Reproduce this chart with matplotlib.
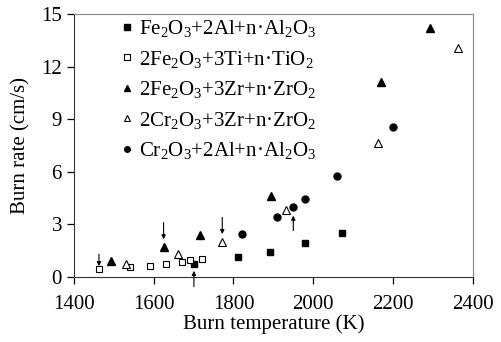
import matplotlib
matplotlib.use('Agg')
import matplotlib.pyplot as plt

plt.rcParams['font.family'] = ['Liberation Serif', 'DejaVu Serif']
plt.rcParams['mathtext.fontset'] = 'custom'
plt.rcParams['mathtext.rm'] = 'Liberation Serif'
plt.rcParams['mathtext.default'] = 'regular'

# Fe2O3 + 2Al + n Al2O3 (filled squares)
fe_al_t = [1701, 1812, 1891, 1980, 2071]
fe_al_u = [0.76, 1.14, 1.43, 1.94, 2.51]
# 2Fe2O3 + 3Ti + n TiO2 (open squares)
fe_ti_t = [1463, 1542, 1590, 1631, 1671, 1691, 1721]
fe_ti_u = [0.46, 0.57, 0.63, 0.76, 0.86, 0.95, 1.04]
# 2Fe2O3 + 3Zr + n ZrO2 (filled triangles)
fe_zr_t = [1494, 1625, 1716, 1894, 2171, 2292]
fe_zr_u = [0.91, 1.71, 2.40, 4.60, 11.1, 14.2]
# 2Cr2O3 + 3Zr + n ZrO2 (open triangles)
cr_zr_t = [1532, 1661, 1772, 1931, 2162, 2362]
cr_zr_u = [0.74, 1.31, 2.01, 3.82, 7.63, 13.05]
# Cr2O3 + 2Al + n Al2O3 (filled circles)
cr_al_t = [1821, 1909, 1950, 1980, 2059, 2200]
cr_al_u = [2.43, 3.44, 3.97, 4.47, 5.78, 8.57]

# arrows: (x, y_start, y_end)
arrows = [(1463, 1.30, 0.62), (1625, 3.10, 2.15), (1772, 3.40, 2.45),
          (1701, -0.55, 0.35), (1950, 2.65, 3.50)]

fig = plt.figure(figsize=(5.02, 3.42), dpi=100)
ax = fig.add_axes([0.147, 0.190, 0.795, 0.769])

ms = 5
ax.plot(fe_al_t, fe_al_u, 's', color='black', ms=ms,
        label='Fe$_2$O$_3$+2Al+n·Al$_2$O$_3$')
ax.plot(fe_ti_t, fe_ti_u, 's', mfc='white', mec='black', mew=0.8, ms=ms,
        label='2Fe$_2$O$_3$+3Ti+n·TiO$_2$')
ax.plot(fe_zr_t, fe_zr_u, '^', color='black', ms=ms + 0.5,
        label='2Fe$_2$O$_3$+3Zr+n·ZrO$_2$')
ax.plot(cr_zr_t, cr_zr_u, '^', mfc='white', mec='black', mew=0.8, ms=ms + 0.5,
        label='2Cr$_2$O$_3$+3Zr+n·ZrO$_2$')
ax.plot(cr_al_t, cr_al_u, 'o', color='black', ms=ms,
        label='Cr$_2$O$_3$+2Al+n·Al$_2$O$_3$')

for x, y0, y1 in arrows:
    ax.annotate('', xy=(x, y1), xytext=(x, y0), annotation_clip=False,
                arrowprops=dict(arrowstyle='-|>', color='black', lw=0.8,
                                mutation_scale=6, shrinkA=0, shrinkB=0))

ax.set_xlim(1400, 2400)
ax.set_ylim(0, 15)
ax.set_xticks(range(1400, 2401, 200))
ax.set_yticks(range(0, 16, 3))
ax.tick_params(direction='out', length=5, labelsize=15, width=0.9)
ax.tick_params(axis='x', pad=8)
ax.set_xlabel('Burn temperature (K)', fontsize=15, labelpad=0)
ax.set_ylabel('Burn rate (cm/s)', fontsize=15, labelpad=8)

for s in ['top', 'right']:
    ax.spines[s].set_color('#888888')
for s in ['left', 'bottom']:
    ax.spines[s].set_color('#333333')

ax.legend(loc='upper left', frameon=False, fontsize=15, handlelength=0.5,
          handletextpad=0.3, labelspacing=0.45, borderaxespad=0.0,
          markerscale=0.8, bbox_to_anchor=(0.1, 1.015))

fig.savefig('out.png', dpi=100)
